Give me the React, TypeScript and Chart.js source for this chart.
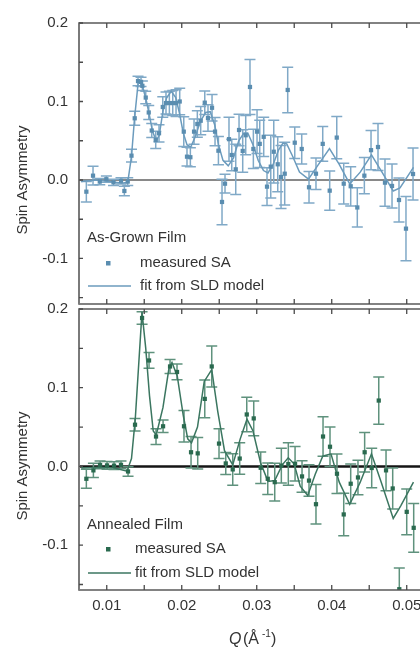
import React, { useEffect, useRef } from 'react';
import { Chart, registerables } from 'chart.js';
Chart.register(...registerables);

const FONT = "'Liberation Sans', Arial, sans-serif";

// ---- As-Grown film (top panel) ----
const agQ = [0.00728, 0.00817, 0.00907, 0.00995, 0.0109, 0.0119, 0.01235, 0.0128, 0.0133, 0.01373, 0.01417, 0.01457, 0.01475, 0.0152, 0.0156, 0.016, 0.01653, 0.01697, 0.01747, 0.0179, 0.01835, 0.0188, 0.01924, 0.01973, 0.02027, 0.0207, 0.02115, 0.02164, 0.02208, 0.02253, 0.02307, 0.0235, 0.02404, 0.02444, 0.02489, 0.02537, 0.02577, 0.0263, 0.02667, 0.0272, 0.02764, 0.02813, 0.02853, 0.0291, 0.02955, 0.03004, 0.0304, 0.03093, 0.03137, 0.03187, 0.03227, 0.0328, 0.03324, 0.03373, 0.03413, 0.03507, 0.036, 0.03697, 0.0379, 0.0388, 0.03973, 0.04067, 0.0416, 0.04253, 0.04341, 0.04435, 0.04524, 0.04617, 0.0471, 0.04804, 0.04897, 0.0499, 0.05084];
const agSA = [-0.0149, 0.0055, -0.002, 0.001, -0.003, -0.001, -0.014, -0.002, 0.031, 0.0786, 0.126, 0.125, 0.12, 0.105, 0.086, 0.063, 0.051, 0.0595, 0.093, 0.098, 0.098, 0.098, 0.098, 0.1, 0.0616, 0.0297, 0.029, 0.0616, 0.0713, 0.0755, 0.0985, 0.079, 0.092, 0.0616, 0.0373, -0.028, -0.0047, 0.052, 0.0318, 0.0136, 0.0637, 0.037, 0.057, 0.1185, 0.0395, 0.0616, 0.046, 0.055, -0.0085, 0.017, 0.036, 0.02, 0.0038, 0.008, 0.1147, 0.0475, 0.0395, -0.0093, 0.008, 0.046, -0.0136, 0.054, -0.0047, -0.008, -0.035, 0.0055, 0.038, 0.042, -0.0034, -0.0076, -0.0255, -0.062, 0.0076];
const agErr = [0.013, 0.012, 0.004, 0.004, 0.004, 0.004, 0.006, 0.005, 0.008, 0.009, 0.006, 0.006, 0.006, 0.008, 0.009, 0.009, 0.011, 0.011, 0.013, 0.014, 0.015, 0.016, 0.017, 0.017, 0.019, 0.012, 0.012, 0.016, 0.017, 0.018, 0.015, 0.017, 0.017, 0.018, 0.018, 0.029, 0.012, 0.028, 0.02, 0.032, 0.02, 0.027, 0.025, 0.035, 0.025, 0.028, 0.03, 0.025, 0.024, 0.04, 0.04, 0.035, 0.04, 0.04, 0.029, 0.02, 0.019, 0.02, 0.02, 0.022, 0.025, 0.027, 0.026, 0.025, 0.025, 0.023, 0.025, 0.03, 0.03, 0.028, 0.028, 0.041, 0.033];
const agFitQ = [0.0066, 0.0085, 0.0105, 0.012, 0.0128, 0.0133, 0.0137, 0.0142, 0.0146, 0.0149, 0.0153, 0.0157, 0.0161, 0.0166, 0.017, 0.0175, 0.018, 0.0186, 0.0192, 0.0197, 0.0202, 0.0207, 0.0212, 0.0218, 0.0225, 0.0232, 0.0238, 0.0244, 0.0249, 0.0255, 0.0262, 0.0269, 0.0276, 0.0283, 0.0288, 0.0295, 0.0302, 0.0309, 0.0315, 0.0322, 0.0329, 0.0335, 0.034, 0.0348, 0.0357, 0.0369, 0.0381, 0.0397, 0.041, 0.0424, 0.0438, 0.0453, 0.0467, 0.0482, 0.0491, 0.0509];
const agFitSA = [-0.002, 0.0, -0.002, -0.004, -0.003, 0.03, 0.078, 0.125, 0.124, 0.115, 0.1, 0.082, 0.062, 0.05, 0.057, 0.088, 0.105, 0.113, 0.105, 0.085, 0.06, 0.045, 0.042, 0.055, 0.075, 0.086, 0.087, 0.07, 0.045, 0.025, 0.018, 0.028, 0.05, 0.06, 0.06, 0.045, 0.025, 0.012, 0.009, 0.02, 0.038, 0.047, 0.046, 0.03, 0.01, 0.001, 0.018, 0.04, 0.02, -0.005, 0.01, 0.032, 0.01, -0.014, -0.01, 0.016];

// ---- Annealed film (bottom panel) ----
const anQ = [0.00728, 0.00822, 0.00911, 0.01004, 0.01097, 0.0119, 0.01284, 0.01377, 0.01471, 0.01564, 0.01657, 0.01751, 0.01844, 0.01937, 0.0203, 0.02124, 0.02213, 0.02307, 0.024, 0.02497, 0.02587, 0.0268, 0.02773, 0.02867, 0.0296, 0.03053, 0.03147, 0.0324, 0.03328, 0.03421, 0.03511, 0.03604, 0.03697, 0.0379, 0.03884, 0.03977, 0.0407, 0.0416, 0.04253, 0.0435, 0.04439, 0.04533, 0.04627, 0.04724, 0.04813, 0.04901, 0.05, 0.05093];
const anSA = [-0.0157, -0.005, 0.002, 0.0013, 0.001, 0.002, -0.0064, 0.053, 0.1886, 0.1346, 0.038, 0.051, 0.127, 0.12, 0.051, 0.018, 0.0166, 0.0858, 0.127, 0.029, 0.0038, -0.0038, 0.01, 0.066, 0.061, -0.0017, -0.0157, -0.02, 0.001, 0.003, 0.0034, -0.0127, -0.018, -0.048, 0.038, 0.025, -0.0093, -0.061, -0.022, -0.014, 0.018, -0.002, 0.0837, -0.005, -0.028, -0.156, -0.0577, -0.078];
const anErr = [0.012, 0.009, 0.005, 0.005, 0.005, 0.005, 0.006, 0.008, 0.008, 0.01, 0.01, 0.008, 0.009, 0.01, 0.02, 0.02, 0.02, 0.024, 0.026, 0.019, 0.014, 0.02, 0.02, 0.022, 0.022, 0.02, 0.02, 0.024, 0.022, 0.027, 0.022, 0.02, 0.02, 0.025, 0.025, 0.025, 0.025, 0.027, 0.025, 0.022, 0.025, 0.025, 0.03, 0.026, 0.026, 0.027, 0.029, 0.031];
const anFitQ = [0.0066, 0.009, 0.011, 0.0127, 0.0133, 0.0138, 0.0147, 0.0152, 0.0157, 0.0162, 0.0166, 0.0175, 0.0183, 0.0187, 0.0194, 0.0202, 0.0208, 0.0213, 0.0221, 0.023, 0.024, 0.0248, 0.0257, 0.0268, 0.0278, 0.0287, 0.0295, 0.0305, 0.0315, 0.0324, 0.0334, 0.0342, 0.035, 0.0358, 0.0368, 0.0378, 0.0388, 0.0399, 0.041, 0.0424, 0.0438, 0.0453, 0.0466, 0.0482, 0.0492, 0.0509];
const anFitSA = [-0.002, -0.001, -0.002, -0.006, 0.01, 0.06, 0.196, 0.15, 0.09, 0.045, 0.04, 0.075, 0.125, 0.132, 0.115, 0.065, 0.035, 0.03, 0.05, 0.108, 0.123, 0.07, 0.02, 0.002, 0.035, 0.06, 0.045, 0.005, -0.019, -0.018, 0.002, 0.011, 0.003, -0.025, -0.037, -0.01, 0.013, 0.016, -0.02, -0.048, -0.02, 0.016, -0.02, -0.066, -0.05, -0.02];

const Q_MIN = 0.0063;
const Q_MAX = 0.05177;
const xTickLabels = ['0.01', '0.02', '0.03', '0.04', '0.05'];
const yTickLabels = ['0.2', '0.1', '0.0', '-0.1'];

const isMult = (v: number, s: number) => Math.abs(v / s - Math.round(v / s)) < 1e-6;

type PanelCfg = {
  q: number[]; sa: number[]; err: number[]; fitQ: number[]; fitSA: number[];
  yMin: number; yMax: number; padTop: number; xAxisH: number; showX: boolean;
  pointColor: string; lineColor: string; errColor: string; zeroWidth: number;
  title: string; titleY: number; markY: number; lineY: number; textX: number;
  yTitleY: number;
};

function makePanelPlugin(cfg: PanelCfg) {
  return {
    id: 'panelDeco',
    beforeDatasetsDraw(chart: any) {
      const { ctx, chartArea: a, scales } = chart;
      const x = scales.x, y = scales.y;
      ctx.save();
      ctx.beginPath();
      ctx.rect(a.left, a.top, a.right - a.left, a.bottom - a.top);
      ctx.clip();
      const y0 = y.getPixelForValue(0);
      ctx.strokeStyle = '#151515';
      ctx.lineWidth = cfg.zeroWidth;
      ctx.beginPath();
      ctx.moveTo(a.left, y0);
      ctx.lineTo(a.right, y0);
      ctx.stroke();
      ctx.strokeStyle = cfg.errColor;
      ctx.lineWidth = 1.5;
      cfg.q.forEach((qv, i) => {
        const px = x.getPixelForValue(qv);
        const t = y.getPixelForValue(cfg.sa[i] + cfg.err[i]);
        const b = y.getPixelForValue(cfg.sa[i] - cfg.err[i]);
        ctx.beginPath();
        ctx.moveTo(px, t); ctx.lineTo(px, b);
        ctx.moveTo(px - 5.5, t); ctx.lineTo(px + 5.5, t);
        ctx.moveTo(px - 5.5, b); ctx.lineTo(px + 5.5, b);
        ctx.stroke();
      });
      ctx.restore();
    },
    afterDraw(chart: any) {
      const { ctx, chartArea: a, scales } = chart;
      const x = scales.x, y = scales.y;
      ctx.save();
      // frame
      ctx.strokeStyle = '#5a5a5a';
      ctx.lineWidth = 1.5;
      ctx.beginPath();
      ctx.moveTo(a.left, a.top); ctx.lineTo(a.right, a.top);
      ctx.moveTo(a.left, a.bottom); ctx.lineTo(a.right, a.bottom);
      ctx.stroke();
      ctx.strokeStyle = '#7a7a7a';
      ctx.lineWidth = 2;
      ctx.beginPath();
      ctx.moveTo(a.left, a.top - 0.75); ctx.lineTo(a.left, a.bottom + 0.75);
      ctx.stroke();
      // ticks
      ctx.strokeStyle = '#4a4a4a';
      ctx.lineWidth = 1.3;
      ctx.beginPath();
      x.ticks.forEach((t: any) => {
        if (!isMult(t.value, 0.005)) return;
        const px = x.getPixelForValue(t.value);
        ctx.moveTo(px, a.top); ctx.lineTo(px, a.top + 5);
        ctx.moveTo(px, a.bottom); ctx.lineTo(px, a.bottom - 5);
      });
      y.ticks.forEach((t: any) => {
        if (!isMult(t.value, 0.05)) return;
        const py = y.getPixelForValue(t.value);
        ctx.moveTo(a.left, py); ctx.lineTo(a.left + 4, py);
      });
      ctx.stroke();
      // legend
      ctx.fillStyle = '#333';
      ctx.font = `15px ${FONT}`;
      ctx.textBaseline = 'middle';
      ctx.textAlign = 'left';
      ctx.fillText(cfg.title, 87, cfg.titleY);
      ctx.fillText('measured SA', cfg.textX, cfg.markY);
      ctx.fillText('fit from SLD model', cfg.textX, cfg.lineY);
      ctx.fillStyle = cfg.pointColor;
      ctx.fillRect(106, cfg.markY - 2, 4.5, 4.5);
      ctx.strokeStyle = cfg.lineColor;
      ctx.lineWidth = 1.5;
      ctx.beginPath();
      ctx.moveTo(88, cfg.lineY); ctx.lineTo(131, cfg.lineY);
      ctx.stroke();
      // y title
      ctx.save();
      ctx.translate(23, cfg.yTitleY);
      ctx.rotate(-Math.PI / 2);
      ctx.fillStyle = '#333';
      ctx.textAlign = 'center';
      ctx.textBaseline = 'middle';
      ctx.font = `15px ${FONT}`;
      ctx.fillText('Spin Asymmetry', 0, 0);
      ctx.restore();
      // x title
      if (cfg.showX) {
        const by = chart.height - 4;
        ctx.fillStyle = '#333';
        ctx.textBaseline = 'alphabetic';
        ctx.textAlign = 'left';
        ctx.font = `italic 16px ${FONT}`;
        ctx.fillText('Q', 229, by);
        ctx.font = `16px ${FONT}`;
        ctx.fillText('(Å', 243, by);
        ctx.font = `10px ${FONT}`;
        ctx.fillText('-1', 262, by - 7);
        ctx.font = `16px ${FONT}`;
        ctx.fillText(')', 271, by);
      }
      ctx.restore();
    },
  };
}

function buildConfig(cfg: PanelCfg): any {
  return {
    type: 'scatter',
    data: {
      datasets: [
        {
          type: 'line',
          data: cfg.fitQ.map((q, i) => ({ x: q, y: cfg.fitSA[i] })),
          borderColor: cfg.lineColor,
          borderWidth: 1.5,
          pointRadius: 0,
          tension: 0,
          fill: false,
          order: 2,
        },
        {
          type: 'scatter',
          data: cfg.q.map((q, i) => ({ x: q, y: cfg.sa[i] })),
          pointStyle: 'rect',
          pointRadius: 3,
          backgroundColor: cfg.pointColor,
          borderWidth: 0,
          order: 1,
        },
      ],
    },
    options: {
      responsive: false,
      animation: false,
      devicePixelRatio: 1,
      layout: { autoPadding: false, padding: { top: cfg.padTop, left: 0, right: 0, bottom: 0 } },
      plugins: { legend: { display: false }, tooltip: { enabled: false }, title: { display: false } },
      scales: {
        x: {
          type: 'linear',
          min: Q_MIN,
          max: Q_MAX,
          grid: { display: false, drawTicks: false },
          border: { display: false },
          ticks: {
            display: cfg.showX,
            stepSize: 0.005,
            includeBounds: false,
            autoSkip: false,
            maxRotation: 0,
            padding: 7,
            color: '#333',
            font: { family: FONT, size: 15 },
            callback: (v: number) => {
              if (!isMult(v, 0.01)) return '';
              const idx = Math.round(v / 0.01) - 1;
              return xTickLabels[idx] ?? '';
            },
          },
          afterFit: (s: any) => {
            s.height = cfg.xAxisH;
            s.paddingLeft = 0; s.paddingRight = 0; s.paddingTop = 0; s.paddingBottom = 0;
          },
        },
        y: {
          type: 'linear',
          min: cfg.yMin,
          max: cfg.yMax,
          grid: { display: false, drawTicks: false },
          border: { display: false },
          ticks: {
            stepSize: 0.05,
            includeBounds: false,
            autoSkip: false,
            padding: 11,
            color: '#333',
            font: { family: FONT, size: 15 },
            callback: (v: number) => {
              if (!isMult(v, 0.1)) return '';
              const idx = Math.round((0.2 - v) / 0.1);
              return yTickLabels[idx] ?? '';
            },
          },
          afterFit: (s: any) => {
            s.width = 79;
            s.paddingLeft = 0; s.paddingRight = 0; s.paddingTop = 0; s.paddingBottom = 0;
          },
        },
      },
    },
    plugins: [makePanelPlugin(cfg)],
  };
}

const topCfg: PanelCfg = {
  q: agQ, sa: agSA, err: agErr, fitQ: agFitQ, fitSA: agFitSA,
  yMin: -0.158, yMax: 0.2, padTop: 23, xAxisH: 6, showX: false,
  pointColor: '#5a8db0', lineColor: '#6b9bbd', errColor: '#80a9c7', zeroWidth: 1.2,
  title: 'As-Grown Film', titleY: 238, markY: 263, lineY: 286, textX: 140, yTitleY: 180,
};

const botCfg: PanelCfg = {
  q: anQ, sa: anSA, err: anErr, fitQ: anFitQ, fitSA: anFitSA,
  yMin: -0.157, yMax: 0.2, padTop: 13, xAxisH: 58, showX: true,
  pointColor: '#2a6a4f', lineColor: '#3b7660', errColor: '#5f927d', zeroWidth: 2.5,
  title: 'Annealed Film', titleY: 229, markY: 253, lineY: 277, textX: 135, yTitleY: 170,
};

export default function App() {
  const topRef = useRef<HTMLCanvasElement>(null);
  const botRef = useRef<HTMLCanvasElement>(null);
  useEffect(() => {
    const c1 = new Chart(topRef.current as HTMLCanvasElement, buildConfig(topCfg));
    const c2 = new Chart(botRef.current as HTMLCanvasElement, buildConfig(botCfg));
    return () => { c1.destroy(); c2.destroy(); };
  }, []);
  return (
    <div style={{ position: 'fixed', left: 0, top: 0, width: 420, height: 648, background: '#fff', overflow: 'hidden' }}>
      <canvas ref={topRef} width={420} height={310} style={{ position: 'absolute', left: 0, top: 0, width: 420, height: 310 }} />
      <canvas ref={botRef} width={420} height={352} style={{ position: 'absolute', left: 0, top: 296, width: 420, height: 352 }} />
    </div>
  );
}
